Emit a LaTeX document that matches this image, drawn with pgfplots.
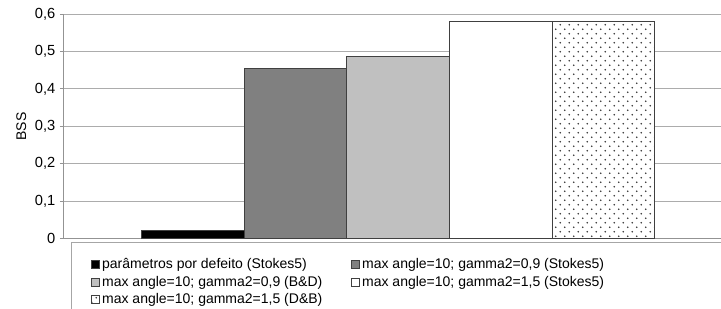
\documentclass[border=0pt]{standalone}
\usepackage{pgfplots}
\pgfplotsset{compat=1.18}
\usepackage{fontspec}
\setmainfont{Liberation Sans}
\usetikzlibrary{patterns}
\pgfdeclarepatternformonly{sparsedots}{\pgfpointorigin}{\pgfpoint{7.1pt}{7.1pt}}{\pgfpoint{7.1pt}{7.1pt}}{%
  \pgfpathcircle{\pgfpoint{1.78pt}{1.78pt}}{0.75pt}%
  \pgfpathcircle{\pgfpoint{5.33pt}{5.33pt}}{0.75pt}%
  \pgfusepath{fill}}
\definecolor{darkbar}{HTML}{808080}
\definecolor{lightbar}{HTML}{C0C0C0}
\begin{document}
\begin{tikzpicture}
\begin{axis}[
  scale only axis, width=492.75pt, height=168.15pt,
  xmin=-0.257, xmax=6.146, ymin=0, ymax=0.6,
  ytick={0,0.1,0.2,0.3,0.4,0.5,0.6},
  xtick=\empty,
  axis lines=left,
  axis line style={draw=gray!85, line width=0.75pt, -},
  ymajorgrids, grid style={gray!65, line width=0.75pt},
  tick align=outside, major tick length=3pt,
  tick style={gray!85, line width=0.75pt},
  /pgf/number format/assume math mode=true,
  yticklabel style={font=\fontsize{11}{13}\selectfont, /pgf/number format/.cd, use comma, fixed, precision=1},
  ylabel={BSS},
  ylabel style={font=\fontsize{10.5}{12}\selectfont, at={(axis description cs:0,0.5)}, anchor=center, yshift=32pt},
  mybar/.style={ybar, bar width=1, bar shift=0pt, draw=black!75, line width=0.75pt},
  legend image code/.code={\draw[#1, line width=0.5pt] (0pt,-3pt) rectangle (6pt,3pt);},
  legend columns=2,
  legend cell align=left,
  legend style={font=\fontsize{10.5}{12}\selectfont, draw=gray!70, line width=0.75pt,
    at={(axis description cs:0.01065,0)}, yshift=-2.6pt, anchor=north west,
    row sep=0pt, inner xsep=14.5pt, inner ysep=10pt},
]
\addplot[mybar, fill=black] coordinates {(1,0.02)};
\addlegendentry{\makebox[184.5pt][l]{parâmetros por defeito (Stokes5)}}
\addplot[mybar, fill=darkbar] coordinates {(2,0.456)};
\addlegendentry{\makebox[300pt][l]{max angle=10; gamma2=0,9 (Stokes5)}}
\addplot[mybar, fill=lightbar] coordinates {(3,0.487)};
\addlegendentry{max angle=10; gamma2=0,9 (B\&D)}
\addplot[mybar, fill=white] coordinates {(4,0.58)};
\addlegendentry{max angle=10; gamma2=1,5 (Stokes5)}
\addplot[mybar, fill=white, postaction={pattern=sparsedots, pattern color=black!80}] coordinates {(5,0.58)};
\addlegendentry{max angle=10; gamma2=1,5 (D\&B)}
\end{axis}
\pgfresetboundingbox
\useasboundingbox ([xshift=-48pt, yshift=-52.9pt]current axis.south west) rectangle ([yshift=10.7pt]current axis.north east);
\end{tikzpicture}
\end{document}
